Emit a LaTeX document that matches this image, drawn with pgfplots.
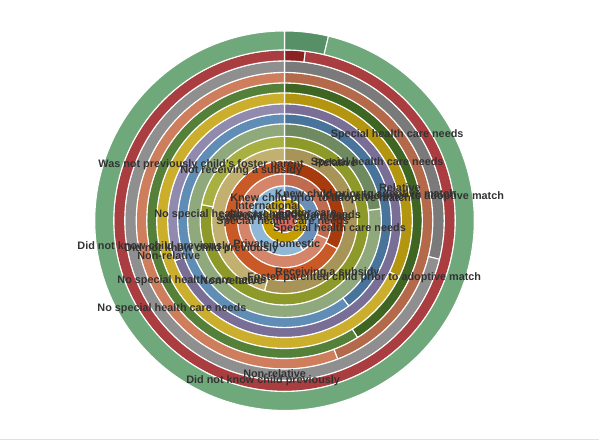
\documentclass[border=0pt]{standalone}
\usepackage{pgfplots}
\usepackage{pgfplotstable}
\pgfplotsset{compat=1.18}
\usepackage{fontspec}
\setmainfont{Liberation Sans}

\definecolor{cd15}{HTML}{578F66}\definecolor{cl15}{HTML}{6FA87B}
\definecolor{cd14}{HTML}{8C2323}\definecolor{cl14}{HTML}{A93D3F}
\definecolor{cd13}{HTML}{7A7A7A}\definecolor{cl13}{HTML}{8F8F8F}
\definecolor{cd12}{HTML}{B4694A}\definecolor{cl12}{HTML}{CF7E5D}
\definecolor{cd11}{HTML}{3E6522}\definecolor{cl11}{HTML}{55803A}
\definecolor{cd10}{HTML}{B3950F}\definecolor{cl10}{HTML}{CBAE2C}
\definecolor{cd9}{HTML}{796E95}\definecolor{cl9}{HTML}{918AAF}
\definecolor{cd8}{HTML}{48739A}\definecolor{cl8}{HTML}{5F8DB5}
\definecolor{cd7}{HTML}{6F8A60}\definecolor{cl7}{HTML}{8FA97C}
\definecolor{cd6}{HTML}{8D9A2A}\definecolor{cl6}{HTML}{A8B042}
\definecolor{cd5}{HTML}{A89457}\definecolor{cl5}{HTML}{C2B070}
\definecolor{cd4}{HTML}{A73B0E}\definecolor{cl4}{HTML}{C95A28}
\definecolor{cd3}{HTML}{C06A50}\definecolor{cl3}{HTML}{D4856A}
\definecolor{cd2}{HTML}{6A8FB8}\definecolor{cl2}{HTML}{8FB8D8}
\definecolor{cd1}{HTML}{C49E00}\definecolor{cl1}{HTML}{D0AA10}
\definecolor{cd0}{HTML}{D4695E}\definecolor{cl0}{HTML}{D4695E}
\definecolor{lbl}{HTML}{333333}

\tikzset{lb/.style={font=\fontsize{10.9}{12}\selectfont\bfseries, text=lbl, inner sep=0pt, anchor=west}}

% ring: inner radius, outer radius (px), end angle of first (darker) segment, degrees clockwise from 12 o'clock
\pgfplotstableread{
idx rin rout split
0 0.01 12 360
1 12 22.5 300
2 22.5 35 148
3 35 47 113
4 47 60 118
5 60 73 196
6 73 84.5 281
7 84.5 97 83
8 97 107 143
9 107 117 250
10 117 128 116
11 128 138 148
12 138 148.5 159
13 148.5 160 104
14 160 171 7
15 171 190 13.4
}\rings

\begin{document}
\begin{tikzpicture}
\begin{axis}[
  width=599bp, height=443bp, scale only axis,
  xmin=0, xmax=599, ymin=0, ymax=443,
  hide axis, clip=false,
]
\path (axis cs:0,0) rectangle (axis cs:599,443);
\draw[black!12, line width=0.8pt] (axis cs:0,3) -- (axis cs:599,3);
\pgfplotsforeachungrouped \i in {0,...,15}{%
  \pgfplotstablegetelem{\i}{rin}\of\rings \let\rin\pgfplotsretval
  \pgfplotstablegetelem{\i}{rout}\of\rings \let\rout\pgfplotsretval
  \pgfplotstablegetelem{\i}{split}\of\rings \let\spl\pgfplotsretval
  \pgfmathsetmacro\aa{90-\spl}%
  \pgfmathsetmacro\w{\rout-\rin}%
  \edef\cmd{%
    \noexpand\fill[cd\i, draw=white, line width=1.1pt]
      (axis cs:284.5,222) ++(90:\rout bp) arc[start angle=90, end angle=\aa, radius=\rout bp]
      -- ++(\aa:-\w bp) arc[start angle=\aa, end angle=90, radius=\rin bp] -- cycle;
    \noexpand\fill[cl\i, draw=white, line width=1.1pt]
      (axis cs:284.5,222) ++(\aa:\rout bp) arc[start angle=\aa, end angle=-270, radius=\rout bp]
      -- ++(-270:-\w bp) arc[start angle=-270, end angle=\aa, radius=\rin bp] -- cycle;
  }\cmd
}
% labels (x = left edge px, y = 443 - row px)
\node[lb] at (axis cs:330.7,308) {Special health care needs};
\node[lb] at (axis cs:310.7,280) {Special health care needs};
\node[lb] at (axis cs:315,280) {Relative};
\node[lb] at (axis cs:379,255) {Relative};
\node[lb] at (axis cs:230,244) {Knew child prior to adoptive match};
\node[lb] at (axis cs:275,248) {Knew child prior to adoptive match};
\node[lb] at (axis cs:323,246) {Knew child prior to adoptive match};
\node[lb] at (axis cs:98,278) {Was not previously child's foster parent};
\node[lb] at (axis cs:180,272) {Not receiving a subsidy};
\node[lb] at (axis cs:235,237) {International};
\node[lb] at (axis cs:278,230) {Foster care};
\node[lb] at (axis cs:154,228) {No special health care needs};
\node[lb] at (axis cs:218,225) {Special health care needs};
\node[lb] at (axis cs:228,227) {Special health care needs};
\node[lb] at (axis cs:216,221) {Special health care needs};
\node[lb] at (axis cs:273,214) {Special health care needs};
\node[lb] at (axis cs:233,199) {Private domestic};
\node[lb] at (axis cs:77,196) {Did not know child previously};
\node[lb] at (axis cs:124,194) {Did not know child previously};
\node[lb] at (axis cs:137,187) {Non-relative};
\node[lb] at (axis cs:117,162) {No special health care needs};
\node[lb] at (axis cs:200,162) {Non-relative};
\node[lb] at (axis cs:247,165) {Foster parented child prior to adoptive match};
\node[lb] at (axis cs:275,170) {Receiving a subsidy};
\node[lb] at (axis cs:97,134) {No special health care needs};
\node[lb] at (axis cs:243,69) {Non-relative};
\node[lb] at (axis cs:186,62) {Did not know child previously};
\end{axis}
\end{tikzpicture}
\end{document}
